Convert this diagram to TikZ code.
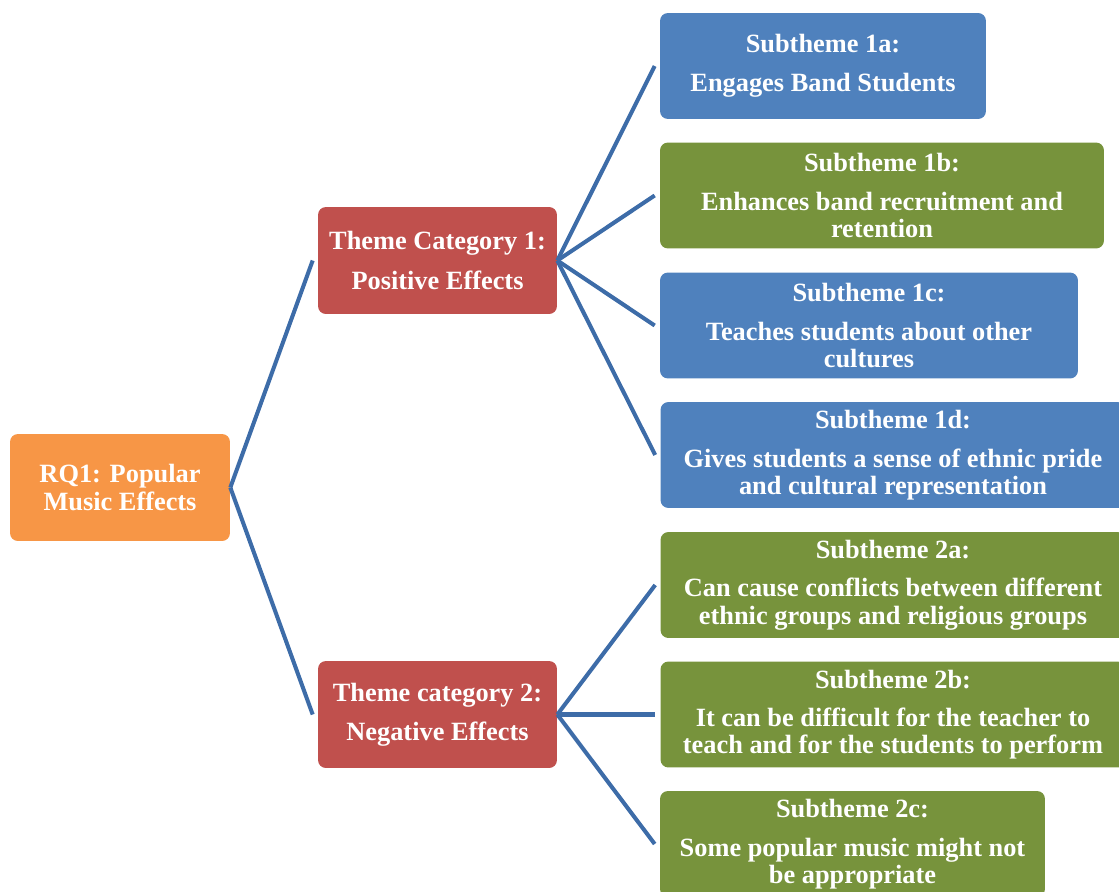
\documentclass[tikz,border=0pt]{standalone}
\usepackage{fontspec}
\setmainfont{Liberation Serif}
\usetikzlibrary{positioning}
\definecolor{rqorange}{HTML}{F79646}
\definecolor{themered}{HTML}{C0504D}
\definecolor{subblue}{HTML}{4F81BD}
\definecolor{subgreen}{HTML}{77933C}
\definecolor{linkblue}{RGB}{61,108,168}

\begin{document}
\begin{tikzpicture}[
    x=0.02cm, y=-0.02cm,
    every node/.style={font=\fontsize{15}{15.4}\selectfont\bfseries, text=white},
    % Box styles
    rqbox/.style={
      rectangle, rounded corners=4.5pt, align=center,
      minimum width=4.4cm, minimum height=2.14cm,
      fill=rqorange
    },
    themebox/.style={
      rectangle, rounded corners=4.5pt, align=center,
      minimum width=4.78cm, minimum height=2.14cm,
      fill=themered
    },
    subbox/.style={
      rectangle, rounded corners=4.5pt, align=center,
      minimum height=2.12cm, inner sep=2pt
    },
    % Connector style
    link/.style={line width=2.3pt, color=linkblue}
  ]
  \useasboundingbox (0,0) rectangle (1119,892);

  % ============ Research question ============
  \node[rqbox] (rq) at (120,487.5) {RQ1: Popular\\Music Effects};

  % ============ Theme categories ============
  \node[themebox] (theme1) at (437.5,260.5)
    {Theme Category 1:\\[7pt]Positive Effects};
  \node[themebox] (theme2) at (437.5,714.5)
    {Theme category 2:\\[7pt]Negative Effects};

  % ============ Subthemes 1 ============
  \node[subbox, fill=subblue, minimum width=6.52cm] (sub1a) at (823,66)
    {Subtheme 1a:\\[6.5pt]Engages Band Students};
  \node[subbox, fill=subgreen, minimum width=8.88cm] (sub1b) at (882,195.5)
    {Subtheme 1b:\\[6.5pt]Enhances band recruitment and\\retention};
  \node[subbox, fill=subblue, minimum width=8.36cm] (sub1c) at (869,325.5)
    {Subtheme 1c:\\[6.5pt]Teaches students about other\\cultures};
  \node[subbox, fill=subblue, minimum width=9.3cm] (sub1d) at (893,455)
    {Subtheme 1d:\\[6.5pt]Gives students a sense of ethnic pride\\and cultural representation};

  % ============ Subthemes 2 ============
  \node[subbox, fill=subgreen, minimum width=9.3cm] (sub2a) at (893,585)
    {Subtheme 2a:\\[6.5pt]Can cause conflicts between different\\ethnic groups and religious groups};
  \node[subbox, fill=subgreen, minimum width=9.3cm] (sub2b) at (893,714.5)
    {Subtheme 2b:\\[6.5pt]It can be difficult for the teacher to\\teach and for the students to perform};
  \node[subbox, fill=subgreen, minimum width=7.7cm] (sub2c) at (852.5,844)
    {Subtheme 2c:\\[6.5pt]Some popular music might not\\be appropriate};

  % ============ Connectors ============
  \draw[link] (rq.east) -- ([xshift=-0.1cm]theme1.west);
  \draw[link] (rq.east) -- ([xshift=-0.1cm]theme2.west);
  \foreach \s in {sub1a,sub1b,sub1c,sub1d}
    \draw[link] (theme1.east) -- ([xshift=-0.1cm]\s.west);
  \foreach \s in {sub2a,sub2b,sub2c}
    \draw[link] (theme2.east) -- ([xshift=-0.1cm]\s.west);
\end{tikzpicture}
\end{document}
